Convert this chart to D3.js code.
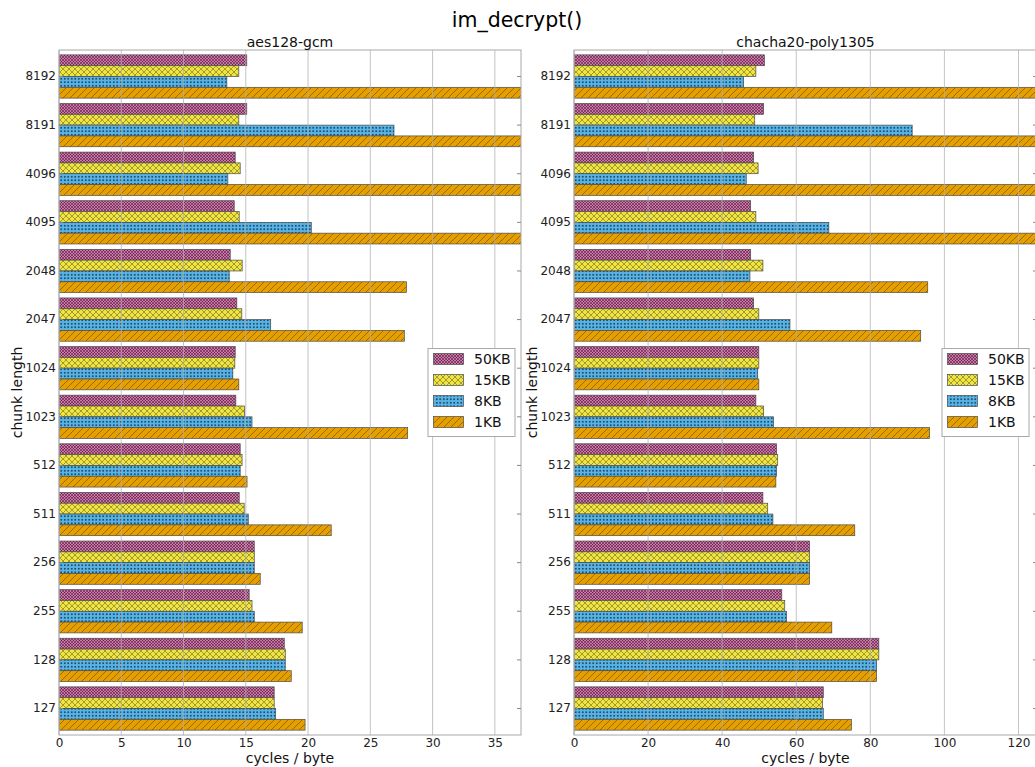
<!DOCTYPE html>
<html>
<head>
<meta charset="utf-8">
<script src="https://cdn.jsdelivr.net/npm/d3@7"></script>
<style>
  html, body { margin: 0; padding: 0; background: #fff; }
  svg { display: block; font-family: "DejaVu Sans", sans-serif; }
</style>
</head>
<body>
<svg id="chart" width="1035" height="767"></svg>
<script>
// Chunk lengths, top to bottom
const chunks = ["8192", "8191", "4096", "4095", "2048", "2047", "1024", "1023", "512", "511", "256", "255", "128", "127"];
const series = ["50KB", "15KB", "8KB", "1KB"];

// aes128-gcm, cycles per byte
const aesKB50 = [15.08, 15.08, 14.15, 14.07, 13.75, 14.28, 14.15, 14.2, 14.55, 14.47, 15.68, 15.27, 18.09, 17.28];
const aesKB15 = [14.44, 14.44, 14.55, 14.47, 14.71, 14.68, 14.12, 14.9, 14.7, 14.87, 15.68, 15.5, 18.17, 17.28];
const aesKB8  = [13.48, 26.9, 13.56, 20.26, 13.67, 17.0, 13.96, 15.5, 14.55, 15.2, 15.68, 15.68, 18.17, 17.4];
const aesKB1  = [52, 52, 51, 51, 27.9, 27.73, 14.44, 28.0, 15.1, 21.86, 16.16, 19.53, 18.65, 19.76];

// chacha20-poly1305, cycles per byte
const chachaKB50 = [51.4, 51.2, 48.5, 47.7, 47.7, 48.5, 49.9, 49.1, 54.7, 51.0, 63.6, 56.1, 82.3, 67.3];
const chachaKB15 = [49.1, 48.8, 49.7, 49.1, 51.0, 49.9, 49.9, 51.2, 55.0, 52.3, 63.6, 56.9, 82.3, 67.1];
const chachaKB8  = [45.8, 91.3, 46.5, 68.8, 47.5, 58.3, 49.6, 53.9, 54.7, 53.7, 63.6, 57.4, 81.7, 67.3];
const chachaKB1  = [170, 170, 168, 168, 95.5, 93.6, 49.9, 96.0, 54.5, 75.8, 63.6, 69.6, 81.7, 74.9];

const aesTicks = [0, 5, 10, 15, 20, 25, 30, 35];
const chachaTicks = [0, 20, 40, 60, 80, 100, 120];

const colors = { "50KB": "#cc79a7", "15KB": "#f0e442", "8KB": "#56b4e9", "1KB": "#e69f00" };

const svg = d3.select("#chart");
const defs = svg.append("defs");

// Hatch fills, one per series
function hatch(id, color, size, draw) {
  const p = defs.append("pattern")
    .attr("id", id).attr("patternUnits", "userSpaceOnUse")
    .attr("width", size).attr("height", size);
  p.append("rect").attr("width", size).attr("height", size).attr("fill", color);
  draw(p, size);
}
const ink = "rgba(0,0,0,0.55)";
hatch("h-50KB", colors["50KB"], 3, (p, s) => {
  p.append("path").attr("d", `M0,0L${s},${s}M0,${s}L${s},0`)
    .attr("stroke", "rgba(60,0,40,0.6)").attr("stroke-width", 0.8);
});
hatch("h-15KB", colors["15KB"], 6, (p, s) => {
  p.append("path").attr("d", `M0,0L${s},${s}M0,${s}L${s},0`)
    .attr("stroke", ink).attr("stroke-width", 0.6);
});
hatch("h-8KB", colors["8KB"], 3.5, (p, s) => {
  p.append("circle").attr("cx", s / 2).attr("cy", s / 2).attr("r", 0.9)
    .attr("fill", "rgba(0,0,0,0.75)");
});
hatch("h-1KB", colors["1KB"], 7, (p, s) => {
  p.append("path").attr("d", `M0,${s}L${s},0M${-s / 2},${s / 2}L${s / 2},${-s / 2}M${s / 2},${s * 1.5}L${s * 1.5},${s / 2}`)
    .attr("stroke", ink).attr("stroke-width", 0.6);
});

const plotTop = 50, plotBottom = 735;

const y = d3.scaleBand().domain(chunks).range([plotTop, plotBottom]).paddingInner(0.11).paddingOuter(0.1);
const ySub = d3.scaleBand().domain(series).range([0, y.bandwidth()]);

function panel(opts) {
  const { x0, x1, xmax, ticks, title, values, clipId } = opts;
  const x = d3.scaleLinear().domain([0, xmax]).range([x0, x1]);
  const g = svg.append("g");

  defs.append("clipPath").attr("id", clipId)
    .append("rect").attr("x", x0).attr("y", plotTop).attr("width", x1 - x0).attr("height", plotBottom - plotTop);

  const rows = [];
  chunks.forEach((c, i) => series.forEach(s => rows.push({ chunk: c, s, v: values[s][i] })));

  g.append("g").attr("clip-path", `url(#${clipId})`)
    .selectAll("rect").data(rows).join("rect")
    .attr("x", x(0))
    .attr("y", d => y(d.chunk) + ySub(d.s))
    .attr("width", d => x(d.v) - x(0))
    .attr("height", ySub.bandwidth())
    .attr("fill", d => `url(#h-${d.s})`)
    .attr("stroke", "#4a4a4a").attr("stroke-width", 0.7);

  // vertical grid, drawn over the bars
  g.append("g").selectAll("line").data(ticks).join("line")
    .attr("x1", d => x(d)).attr("x2", d => x(d))
    .attr("y1", plotTop).attr("y2", plotBottom)
    .attr("stroke", "#b0b0b0").attr("stroke-opacity", 0.75).attr("stroke-width", 1);

  // frame
  g.append("rect").attr("x", x0).attr("y", plotTop).attr("width", x1 - x0).attr("height", plotBottom - plotTop)
    .attr("fill", "none").attr("stroke", "#a8a8a8").attr("stroke-width", 1);

  // x axis
  const xAxis = d3.axisBottom(x).tickValues(ticks).tickSize(0).tickPadding(3).tickFormat(d3.format("d"));
  const xa = g.append("g").attr("transform", `translate(0,${plotBottom})`).call(xAxis);
  xa.select(".domain").remove();
  xa.selectAll("text").attr("font-size", 12).attr("fill", "#222").attr("font-family", "DejaVu Sans");

  // y axis with inward ticks on both sides
  const yAxis = d3.axisLeft(y).tickSize(0).tickPadding(3);
  const ya = g.append("g").attr("transform", `translate(${x0},0)`).call(yAxis);
  ya.select(".domain").remove();
  ya.selectAll("text").attr("font-size", 12).attr("fill", "#222").attr("font-family", "DejaVu Sans");
  g.append("g").selectAll("line").data(chunks).join("line")
    .attr("x1", x0).attr("x2", x0 + 4)
    .attr("y1", d => y(d) + y.bandwidth() / 2).attr("y2", d => y(d) + y.bandwidth() / 2)
    .attr("stroke", "#888");
  g.append("g").selectAll("line").data(chunks).join("line")
    .attr("x1", x1 - 4).attr("x2", x1)
    .attr("y1", d => y(d) + y.bandwidth() / 2).attr("y2", d => y(d) + y.bandwidth() / 2)
    .attr("stroke", "#888");

  // titles
  g.append("text").attr("x", (x0 + x1) / 2).attr("y", 47).attr("text-anchor", "middle")
    .attr("font-size", 14).attr("fill", "#111").text(title);
  g.append("text").attr("x", (x0 + x1) / 2).attr("y", 763).attr("text-anchor", "middle")
    .attr("font-size", 14).attr("fill", "#111").text("cycles / byte");
  g.append("text").attr("transform", `translate(${x0 - 37},${(plotTop + plotBottom) / 2}) rotate(-90)`)
    .attr("text-anchor", "middle").attr("font-size", 14).attr("fill", "#111").text("chunk length");

  // legend, centred on the right edge
  const lw = 87, lh = 88;
  const lx = Math.min(x1, 1035) - 6 - lw, ly = (plotTop + plotBottom) / 2 - lh / 2;
  const lg = g.append("g").attr("transform", `translate(${lx},${ly})`);
  lg.append("rect").attr("width", lw).attr("height", lh).attr("fill", "#fff")
    .attr("stroke", "#a8a8a8").attr("stroke-width", 1);
  series.forEach((s, i) => {
    const row = lg.append("g").attr("transform", `translate(0,${10.5 + i * 21})`);
    row.append("rect").attr("x", 5.5).attr("y", -5.5).attr("width", 30).attr("height", 11)
      .attr("fill", `url(#h-${s})`).attr("stroke", "#4a4a4a").attr("stroke-width", 0.7);
    row.append("text").attr("x", 46).attr("y", 5).attr("font-size", 14).attr("fill", "#111").text(s);
  });
}

panel({
  x0: 59, x1: 521, xmax: 37.1, ticks: aesTicks, title: "aes128-gcm", clipId: "clip-aes",
  values: { "50KB": aesKB50, "15KB": aesKB15, "8KB": aesKB8, "1KB": aesKB1 }
});
panel({
  x0: 574, x1: 1037, xmax: 125, ticks: chachaTicks, title: "chacha20-poly1305", clipId: "clip-chacha",
  values: { "50KB": chachaKB50, "15KB": chachaKB15, "8KB": chachaKB8, "1KB": chachaKB1 }
});

svg.append("text").attr("x", 517).attr("y", 27).attr("text-anchor", "middle")
  .attr("font-size", 20.5).attr("fill", "#000").text("im_decrypt()");
</script>
</body>
</html>
